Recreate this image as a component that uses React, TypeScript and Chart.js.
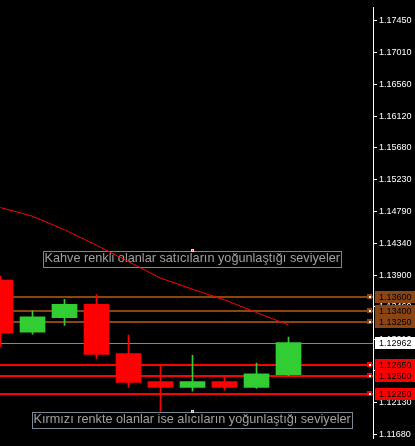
import React, { useEffect, useRef } from "react";
import { Chart, registerables } from "chart.js";

Chart.register(...registerables);

// Bar slots (one per candle, left to right)
const slots = [0, 1, 2, 3, 4, 5, 6, 7, 8, 9];
const opens = [1.13833, 1.13105, 1.13307, 1.13496, 1.12808, 1.12418, 1.12337, 1.12418, 1.12337, 1.12512];
const highs = [1.13887, 1.13402, 1.13563, 1.13631, 1.13065, 1.12647, 1.12782, 1.12485, 1.12674, 1.13038];
const lows = [1.12903, 1.13078, 1.13199, 1.12741, 1.12337, 1.12, 1.12283, 1.12296, 1.12323, 1.12498];
const closes = [1.13092, 1.13321, 1.13496, 1.12795, 1.12404, 1.12337, 1.12418, 1.12337, 1.12525, 1.12962];
// Moving average value at each candle
const maValues = [1.14844, 1.14723, 1.14534, 1.14318, 1.14089, 1.1386, 1.13705, 1.13557, 1.13381, 1.13206];

// Price axis grid labels
const priceTicks = [
  1.1745, 1.1701, 1.1656, 1.1612, 1.1568, 1.1523, 1.1479, 1.1434, 1.139, 1.1346, 1.1301, 1.1257, 1.1213, 1.1168,
];

// Horizontal levels
const sellerLevels = [1.136, 1.134, 1.1325];
const buyerLevels = [1.1265, 1.125, 1.1225];
const bidPrice = 1.12962;

// Text notes: label, anchor slot, top price
const noteTexts = [
  "Kahve renkli olanlar satıcıların yoğunlaştığı seviyeler",
  "Kırmızı renkte olanlar ise alıcıların yoğunlaştığı seviyeler",
];
const noteSlots = [6, 6];
const noteTops = [1.14231, 1.1199];

const PRICE_MIN = 1.11622;
const PRICE_MAX = 1.176347;

const BULL = "#32cd32";
const BEAR = "#ff0000";
const BROWN = "#8b4513";
const LEVEL_RED = "#ff0000";
const BID_GRAY = "#778899";
const FONT = "'Liberation Sans', Arial, sans-serif";

const candleColors = slots.map((i) => (closes[i] >= opens[i] ? BULL : BEAR));

const terminalOverlay = {
  id: "terminalOverlay",
  beforeDraw(chart: any) {
    const { ctx, width, height } = chart;
    ctx.save();
    ctx.fillStyle = "#000000";
    ctx.fillRect(0, 0, width, height);
    ctx.restore();
  },
  beforeDatasetsDraw(chart: any) {
    const { ctx, chartArea, scales } = chart;
    const y = scales.y;
    const x = scales.x;
    ctx.save();
    const w = chartArea.right - chartArea.left;
    const hline = (v: number, color: string, lw: number) => {
      const py = Math.round(y.getPixelForValue(v));
      ctx.fillStyle = color;
      ctx.fillRect(chartArea.left, py - Math.floor(lw / 2), w, lw);
    };
    sellerLevels.forEach((v) => hline(v, BROWN, 2));
    buyerLevels.forEach((v) => hline(v, LEVEL_RED, 2));
    hline(bidPrice, BID_GRAY, 1);

    // note boxes
    ctx.font = `12.7px ${FONT}`;
    ctx.textBaseline = "alphabetic";
    ctx.textAlign = "left";
    noteTexts.forEach((t, k) => {
      const cx = x.getPixelForValue(noteSlots[k]);
      const top = Math.round(y.getPixelForValue(noteTops[k]));
      const tw = ctx.measureText(t).width;
      const bx = Math.round(cx - tw / 2 - 1.5);
      const bw = Math.round(tw + 3);
      ctx.strokeStyle = "#778899";
      ctx.lineWidth = 1;
      ctx.strokeRect(bx + 0.5, top + 0.5, bw, 16);
      ctx.fillStyle = "#a0a0a0";
      ctx.fillText(t, bx + 1.5, top + 11);
    });
    ctx.restore();
  },
  afterDatasetsDraw(chart: any) {
    const { ctx, chartArea, scales } = chart;
    const y = scales.y;
    const x = scales.x;
    ctx.save();
    // level anchors at right end of each line
    const anchor = (v: number, color: string) => {
      const py = Math.round(y.getPixelForValue(v));
      ctx.fillStyle = color;
      ctx.fillRect(chartArea.right - 6, py - 3, 5, 5);
      ctx.fillStyle = "#ffffff";
      ctx.fillRect(chartArea.right - 4, py - 1, 2, 2);
    };
    sellerLevels.forEach((v) => anchor(v, BROWN));
    buyerLevels.forEach((v) => anchor(v, LEVEL_RED));
    // note anchors
    noteTexts.forEach((_, k) => {
      const cx = Math.round(x.getPixelForValue(noteSlots[k]));
      const top = Math.round(y.getPixelForValue(noteTops[k]));
      ctx.fillStyle = "#e8d8d8";
      ctx.fillRect(cx - 2, top - 2, 3, 3);
      ctx.fillStyle = "#ff4040";
      ctx.fillRect(cx - 1, top - 1, 1, 1);
    });
    ctx.restore();
  },
  afterDraw(chart: any) {
    const { ctx, chartArea, scales } = chart;
    const y = scales.y;
    ctx.save();
    ctx.font = `9px ${FONT}`;
    ctx.textBaseline = "middle";
    ctx.textAlign = "left";
    const tag = (v: number, bg: string, fg: string) => {
      const py = y.getPixelForValue(v);
      const top = Math.round(py) - 6;
      ctx.fillStyle = bg;
      ctx.fillRect(chartArea.right + 2, top, 42, 12);
      ctx.fillStyle = fg;
      ctx.fillText(v.toFixed(5), chartArea.right + 6, top + 6.5);
    };
    sellerLevels.forEach((v) => tag(v, BROWN, "#000000"));
    tag(bidPrice, "#ffffff", "#000000");
    buyerLevels.forEach((v) => tag(v, LEVEL_RED, "#000000"));
    ctx.restore();
  },
};

export default function App() {
  const ref = useRef<HTMLCanvasElement>(null);

  useEffect(() => {
    if (!ref.current) return;
    const chart = new Chart(ref.current, {
      type: "bar",
      data: {
        datasets: [
          {
            type: "line",
            label: "MA",
            data: slots.map((i) => ({ x: i, y: maValues[i] })),
            borderColor: "#ff0000",
            borderWidth: 1,
            pointRadius: 0,
            tension: 0,
            fill: false,
            order: 1,
          } as any,
          {
            type: "bar",
            label: "wick",
            data: slots.map((i) => ({ x: i, y: [lows[i], highs[i]] })),
            backgroundColor: candleColors,
            borderWidth: 0,
            barThickness: 1,
            grouped: false,
            order: 3,
          } as any,
          {
            type: "bar",
            label: "body",
            data: slots.map((i) => ({ x: i, y: [opens[i], closes[i]] })),
            backgroundColor: candleColors,
            borderWidth: 0,
            barThickness: 25,
            grouped: false,
            order: 2,
          } as any,
        ],
      },
      options: {
        animation: false,
        responsive: false,
        maintainAspectRatio: false,
        devicePixelRatio: 1,
        events: [],
        layout: { padding: 0 },
        plugins: {
          legend: { display: false },
          tooltip: { enabled: false },
        },
        scales: {
          x: {
            type: "linear",
            display: false,
            offset: false,
            bounds: "data",
            min: -0.015625,
            max: 11.640625,
          },
          y: {
            type: "linear",
            position: "right",
            bounds: "data",
            beginAtZero: false,
            min: PRICE_MIN,
            max: PRICE_MAX,
            afterFit: (scale: any) => {
              scale.width = 42;
            },
            afterBuildTicks: (scale: any) => {
              scale.ticks = priceTicks.map((v) => ({ value: v }));
            },
            border: { display: true, color: "#ffffff", width: 1 },
            grid: {
              display: true,
              drawOnChartArea: false,
              drawTicks: true,
              tickLength: 4,
              tickColor: "#ffffff",
              tickWidth: 1,
            },
            ticks: {
              autoSkip: false,
              padding: 2,
              color: "#ffffff",
              font: { family: FONT, size: 9 },
              callback: (v: any) => Number(v).toFixed(5),
            },
          },
        },
      } as any,
      plugins: [terminalOverlay],
    });
    return () => chart.destroy();
  }, []);

  return (
    <div style={{ position: "fixed", left: 0, top: 0, width: 415, height: 446, background: "#000" }}>
      <canvas ref={ref} width={415} height={446} style={{ display: "block" }} />
    </div>
  );
}
